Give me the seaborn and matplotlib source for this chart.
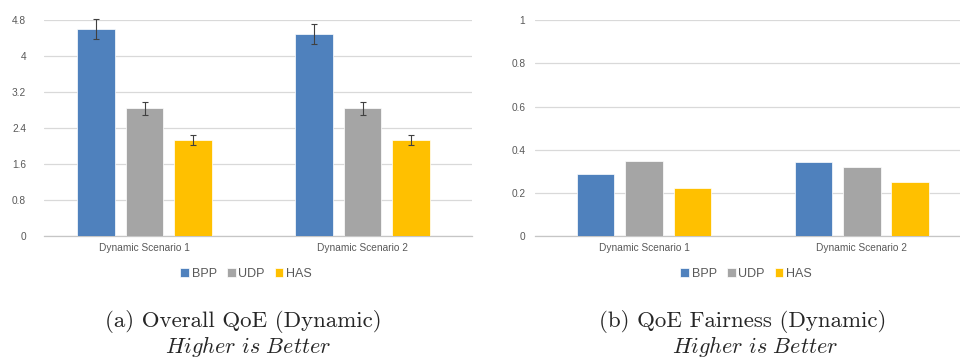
import numpy as np
import pandas as pd
import matplotlib.pyplot as plt
import seaborn as sns

# ---------------- data ----------------
scenarios = ['Dynamic Scenario 1', 'Dynamic Scenario 2']
protocols = ['BPP', 'UDP', 'HAS']
colors = ['#4F81BD', '#A5A5A5', '#FFC000']

qoe_bpp = [4.60, 4.49]
qoe_udp = [2.84, 2.84]
qoe_has = [2.13, 2.14]
qoe_err_bpp = [0.22, 0.22]
qoe_err_udp = [0.15, 0.15]
qoe_err_has = [0.11, 0.11]

fair_bpp = [0.289, 0.345]
fair_udp = [0.347, 0.320]
fair_has = [0.223, 0.250]

qoe_ticks = [0, 0.8, 1.6, 2.4, 3.2, 4, 4.8]
fair_ticks = [0, 0.2, 0.4, 0.6, 0.8, 1]

captions = ['(a) Overall QoE (Dynamic)', '(b) QoE Fairness (Dynamic)']
subcaption = r'$\mathit{Higher\ is\ Better}$'

qoe_df = pd.DataFrame({
    'scenario': scenarios * 3,
    'protocol': np.repeat(protocols, 2),
    'value': qoe_bpp + qoe_udp + qoe_has,
    'err': qoe_err_bpp + qoe_err_udp + qoe_err_has,
})
fair_df = pd.DataFrame({
    'scenario': scenarios * 3,
    'protocol': np.repeat(protocols, 2),
    'value': fair_bpp + fair_udp + fair_has,
})

sns.set_style('white')
plt.rcParams['font.family'] = ['Liberation Sans', 'DejaVu Sans']
plt.rcParams['mathtext.fontset'] = 'cm'

fig = plt.figure(figsize=(9.6, 3.58), dpi=100)
ax1 = fig.add_axes([44 / 960, 1 - 236.3 / 358, 428 / 960, 216.3 / 358])
ax2 = fig.add_axes([535 / 960, 1 - 236.3 / 358, 425 / 960, 216.3 / 358])


def draw(ax, df, ticks, xlim, pad):
    sns.barplot(data=df, x='scenario', y='value', hue='protocol',
                order=scenarios, hue_order=protocols, palette=colors,
                saturation=1, width=0.667, gap=0.22, errorbar=None, ax=ax,
                edgecolor='white', linewidth=0.5, zorder=3)
    ax.set_ylim(0, ticks[-1])
    ax.set_xlim(*xlim)
    ax.set_yticks(ticks)
    ax.set_yticklabels(['{:g}'.format(t) for t in ticks])
    ax.yaxis.grid(True, color='#D9D9D9', linewidth=0.9, zorder=0)
    ax.set_axisbelow(True)
    for s in ['top', 'right', 'left']:
        ax.spines[s].set_visible(False)
    ax.spines['bottom'].set_color('#C6C6C6')
    ax.spines['bottom'].set_linewidth(0.9)
    ax.tick_params(axis='y', length=0, pad=pad, labelsize=7.3, labelcolor='#595959')
    ax.tick_params(axis='x', length=0, pad=5, labelsize=7.3, labelcolor='#595959')
    ax.set_xlabel('')
    ax.set_ylabel('')


draw(ax1, qoe_df, qoe_ticks, (-0.461, 1.502), 13)
draw(ax2, fair_df, fair_ticks, (-0.5, 1.45), 7)

# error bars on the QoE panel, placed at the bars seaborn drew
for cont, p in zip(ax1.containers, protocols):
    errs = qoe_df[qoe_df.protocol == p]['err'].values
    for bar, e in zip(cont, errs):
        ax1.errorbar(bar.get_x() + bar.get_width() / 2, bar.get_height(), yerr=e,
                     color='#404040', elinewidth=0.8, capsize=2.5, capthick=0.8,
                     zorder=4, clip_on=False)

for ax, cx in [(ax1, 246), (ax2, 746)]:
    handles, labels = ax.get_legend_handles_labels()
    ax.legend_.remove()
    leg = fig.legend(handles, labels, loc='center', ncol=3,
                     bbox_to_anchor=(cx / 960, 1 - 274 / 358), frameon=False,
                     fontsize=9, handlelength=0.7, handleheight=0.7,
                     handletextpad=0.2, columnspacing=0.8, borderpad=0)
    for t in leg.get_texts():
        t.set_color('#595959')

for cap, cx1, cx2 in zip(captions, [243, 743], [248, 755]):
    fig.text(cx1 / 960, 1 - 327 / 358, cap, ha='center', va='baseline',
             fontsize=16.5, family='cmr10')
    fig.text(cx2 / 960, 1 - 353 / 358, subcaption, ha='center', va='baseline',
             fontsize=16)

fig.savefig('out.png', dpi=100)
